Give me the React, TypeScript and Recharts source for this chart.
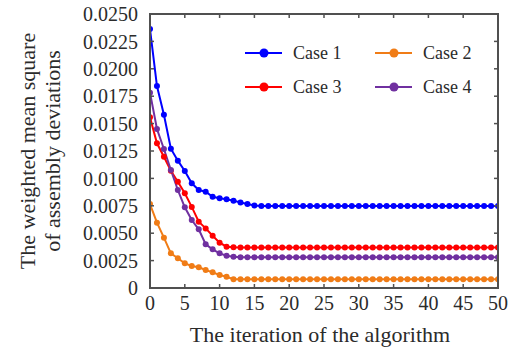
import React from "react";
import { LineChart, Line, XAxis, YAxis, Label } from "recharts";

const iterations = [
  0, 1, 2, 3, 4, 5, 6, 7, 8, 9, 10, 11, 12, 13, 14, 15, 16, 17, 18, 19, 20, 21, 22, 23, 24, 25,
  26, 27, 28, 29, 30, 31, 32, 33, 34, 35, 36, 37, 38, 39, 40, 41, 42, 43, 44, 45, 46, 47, 48, 49, 50,
];

const case1 = [
  0.02363, 0.01843, 0.01581, 0.01271, 0.01162, 0.01068, 0.00955, 0.00894, 0.00879, 0.00833,
  0.00818, 0.00809, 0.00797, 0.0078, 0.00766, 0.00752, 0.00748, 0.00748, 0.00748, 0.00748,
  0.00748, 0.00748, 0.00748, 0.00748, 0.00748, 0.00748, 0.00748, 0.00748, 0.00748, 0.00748,
  0.00748, 0.00748, 0.00748, 0.00748, 0.00748, 0.00748, 0.00748, 0.00748, 0.00748, 0.00748,
  0.00748, 0.00748, 0.00748, 0.00748, 0.00748, 0.00748, 0.00748, 0.00748, 0.00748, 0.00748,
  0.00748,
];

const case2 = [
  0.00766, 0.00596, 0.00459, 0.00316, 0.00271, 0.00225, 0.00201, 0.00189, 0.00164, 0.00143,
  0.00119, 0.00103, 0.0008, 0.0008, 0.0008, 0.0008, 0.0008, 0.0008, 0.0008, 0.0008,
  0.0008, 0.0008, 0.0008, 0.0008, 0.0008, 0.0008, 0.0008, 0.0008, 0.0008, 0.0008,
  0.0008, 0.0008, 0.0008, 0.0008, 0.0008, 0.0008, 0.0008, 0.0008, 0.0008, 0.0008,
  0.0008, 0.0008, 0.0008, 0.0008, 0.0008, 0.0008, 0.0008, 0.0008, 0.0008, 0.0008,
  0.0008,
];

const case3 = [
  0.01557, 0.0132, 0.01198, 0.0107, 0.0097, 0.00864, 0.0074, 0.00605, 0.00544, 0.00477,
  0.00413, 0.00377, 0.00372, 0.0037, 0.0037, 0.0037, 0.0037, 0.0037, 0.0037, 0.0037,
  0.0037, 0.0037, 0.0037, 0.0037, 0.0037, 0.0037, 0.0037, 0.0037, 0.0037, 0.0037,
  0.0037, 0.0037, 0.0037, 0.0037, 0.0037, 0.0037, 0.0037, 0.0037, 0.0037, 0.0037,
  0.0037, 0.0037, 0.0037, 0.0037, 0.0037, 0.0037, 0.0037, 0.0037, 0.0037, 0.0037,
  0.0037,
];

const case4 = [
  0.01782, 0.01451, 0.01268, 0.01077, 0.00894, 0.00736, 0.0062, 0.00535, 0.00399, 0.00353,
  0.00316, 0.00295, 0.00286, 0.0028, 0.0028, 0.0028, 0.0028, 0.0028, 0.0028, 0.0028,
  0.0028, 0.0028, 0.0028, 0.0028, 0.0028, 0.0028, 0.0028, 0.0028, 0.0028, 0.0028,
  0.0028, 0.0028, 0.0028, 0.0028, 0.0028, 0.0028, 0.0028, 0.0028, 0.0028, 0.0028,
  0.0028, 0.0028, 0.0028, 0.0028, 0.0028, 0.0028, 0.0028, 0.0028, 0.0028, 0.0028,
  0.0028,
];

const seriesKeys = ["c1", "c2", "c3", "c4"];
const seriesNames = ["Case 1", "Case 2", "Case 3", "Case 4"];
const seriesColors = ["#0000ff", "#f07c16", "#ff0000", "#7030a0"];

const xTicks = [0, 5, 10, 15, 20, 25, 30, 35, 40, 45, 50];
const yTicks = [0, 0.0025, 0.005, 0.0075, 0.01, 0.0125, 0.015, 0.0175, 0.02, 0.0225, 0.025];
const xMax = 50;
const yMax = 0.025;

const data = iterations.map((it, i) => ({
  iter: it,
  c1: case1[i],
  c2: case2[i],
  c3: case3[i],
  c4: case4[i],
}));

const serif = "'Liberation Serif', 'Times New Roman', serif";
const textColor = "#2b2b2b";
const axisColor = "#505050";

// chart layout
const W = 518;
const H = 350;
const margin = { top: 14, right: 20, bottom: 0, left: 0 };
const yAxisW = 150;
const xAxisH = 62;
const plot = {
  left: margin.left + yAxisW,
  top: margin.top,
  right: W - margin.right,
  bottom: H - margin.bottom - xAxisH,
};

const fmtY = (v: number) => (v === 0 ? "0" : v.toFixed(4));

// box with inward ticks on all four sides, matching the plot area
function PlotFrame() {
  const pw = plot.right - plot.left;
  const ph = plot.bottom - plot.top;
  const tx = (v: number) => plot.left + (v / xMax) * pw;
  const ty = (v: number) => plot.bottom - (v / yMax) * ph;
  const len = 4;
  return (
    <svg width={W} height={H} style={{ position: "absolute", left: 0, top: 0, pointerEvents: "none" }}>
      <rect x={plot.left} y={plot.top} width={pw} height={ph} fill="none" stroke={axisColor} strokeWidth={2} />
      {xTicks.map((t) => (
        <g key={`x${t}`} stroke={axisColor} strokeWidth={1.5}>
          <line x1={tx(t)} x2={tx(t)} y1={plot.bottom} y2={plot.bottom - len} />
          <line x1={tx(t)} x2={tx(t)} y1={plot.top} y2={plot.top + len} />
        </g>
      ))}
      {yTicks.map((t) => (
        <g key={`y${t}`} stroke={axisColor} strokeWidth={1.5}>
          <line x1={plot.left} x2={plot.left + len} y1={ty(t)} y2={ty(t)} />
          <line x1={plot.right} x2={plot.right - len} y1={ty(t)} y2={ty(t)} />
        </g>
      ))}
    </svg>
  );
}

// legend as 2x2 grid placed inside the plot like the original
function ChartLegend() {
  const cols = [0, 130];
  const rows = [18, 52];
  return (
    <svg width={250} height={70} style={{ position: "absolute", left: 240, top: 35 }}>
      {seriesNames.map((name, i) => {
        const cx = cols[i % 2];
        const cy = rows[Math.floor(i / 2)];
        return (
          <g key={name}>
            <line x1={cx + 5} x2={cx + 42} y1={cy} y2={cy} stroke={seriesColors[i]} strokeWidth={2} />
            <circle cx={cx + 24} cy={cy} r={4.5} fill={seriesColors[i]} />
            <text
              x={cx + 53}
              y={cy}
              dominantBaseline="central"
              fontFamily={serif}
              fontSize={18}
              fill={textColor}
            >
              {name}
            </text>
          </g>
        );
      })}
    </svg>
  );
}

const YTitle = (props: any) => {
  const vb = props.viewBox || { x: 0, y: plot.top, width: yAxisW, height: plot.bottom - plot.top };
  const cy = vb.y + vb.height / 2;
  return (
    <g fontFamily={serif} fontSize={22} fill={textColor} textAnchor="middle">
      <text x={27} y={cy} transform={`rotate(-90, 27, ${cy})`} dominantBaseline="central">
        The weighted mean square
      </text>
      <text x={52} y={cy} transform={`rotate(-90, 52, ${cy})`} dominantBaseline="central">
        of assembly deviations
      </text>
    </g>
  );
};

const XTitle = (props: any) => {
  const vb = props.viewBox || { x: plot.left, y: plot.bottom, width: plot.right - plot.left, height: xAxisH };
  return (
    <text
      x={vb.x + vb.width / 2 - 4}
      y={342}
      textAnchor="middle"
      fontFamily={serif}
      fontSize={22}
      fill={textColor}
    >
      The iteration of the algorithm
    </text>
  );
};

export default function App() {
  return (
    <div style={{ position: "absolute", left: 0, top: 0, width: W, height: H, background: "#fff" }}>
      <LineChart width={W} height={H} data={data} margin={margin}>
        <XAxis
          xAxisId="b"
          dataKey="iter"
          type="number"
          domain={[0, xMax]}
          allowDataOverflow
          ticks={xTicks}
          interval={0}
          height={xAxisH}
          tickLine={false}
          tickSize={0}
          tickMargin={8}
          axisLine={{ stroke: axisColor, strokeWidth: 1.5 }}
          tick={{ fill: textColor, fontSize: 20, fontFamily: serif }}
        >
          <Label content={<XTitle />} />
        </XAxis>
        <YAxis
          yAxisId="l"
          type="number"
          domain={[0, yMax]}
          allowDataOverflow
          ticks={yTicks}
          interval={0}
          width={yAxisW}
          tickFormatter={fmtY}
          tickLine={false}
          tickSize={0}
          tickMargin={12}
          axisLine={{ stroke: axisColor, strokeWidth: 1.5 }}
          tick={{ fill: textColor, fontSize: 20, fontFamily: serif }}
        >
          <Label content={<YTitle />} />
        </YAxis>
        {seriesKeys.map((k, i) => (
          <Line
            key={k}
            xAxisId="b"
            yAxisId="l"
            dataKey={k}
            name={seriesNames[i]}
            stroke={seriesColors[i]}
            strokeWidth={2}
            dot={{ r: 3, fill: seriesColors[i], stroke: seriesColors[i], strokeWidth: 0 }}
            isAnimationActive={false}
          />
        ))}
      </LineChart>
      <PlotFrame />
      <ChartLegend />
    </div>
  );
}
